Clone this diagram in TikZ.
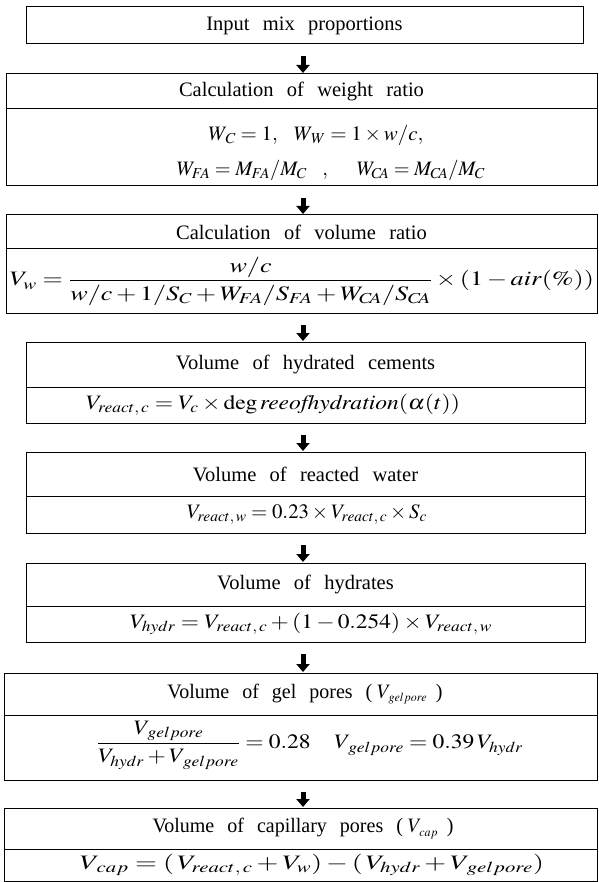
\documentclass[tikz,border=0pt]{standalone}
\usepackage{amsmath}
\usepackage{graphicx}
\usepackage{mathptmx}
\usepackage{fontspec}
\setmainfont{Liberation Serif}
\usetikzlibrary{arrows.meta,calc}
\newcommand\txtfont{\fontsize{20.5}{24}\selectfont\spaceskip=0.65em plus 0.1em\relax}
\newcommand\wfit[2]{\resizebox{#1}{\height}{#2}}
\tikzset{
  boxnode/.style={draw, line width=1pt, inner sep=0pt, outer sep=0pt, font=\txtfont},
  txt/.style={inner sep=0pt, outer sep=0pt, font=\txtfont},
  fatarrow/.style={line width=5pt, -{Triangle[width=13pt,length=8pt]}},
}
\begin{document}
\begin{tikzpicture}[x=1pt,y=-1pt]
\useasboundingbox (0,0) rectangle (598,882);
\coordinate (ax) at (303,0);
% box 1
\node[boxnode, minimum width=557pt, minimum height=37pt] (b1) at (304.5,25.5) {Input mix proportions};
% box 2
\node[boxnode, minimum width=591pt, minimum height=35pt] (t2) at (301.5,91.5) {Calculation of weight ratio};
\node[boxnode, minimum width=591pt, minimum height=77pt] (f2) at (301.5,147.5) {};
\node[txt] (e2a) at (316,135) {\wfit{215pt}{$W_{\,C}=1,\ W_{\,W}=1\times w/c,$}};
\node[txt] (e2b) at (331,170) {\wfit{308pt}{$W_{F\!A}=M_{F\!A}/M_C\,\ ,\ \ W_{C\!A}=M_{C\!A}/M_C$}};
% box 3
\node[boxnode, minimum width=591pt, minimum height=34pt] (t3) at (301.5,232) {Calculation of volume ratio};
\node[boxnode, minimum width=591pt, minimum height=64pt] (f3) at (301.5,281) {};
\node[txt] (e3) at (302,281) {\wfit{584pt}{$V_w=\dfrac{w/c}{w/c+1/S_C+W_{F\!A}/S_{F\!A}+W_{C\!A}/S_{C\!A}}\times(1-\mathit{air}(\%))$}};
% box 4
\node[boxnode, minimum width=559pt, minimum height=45pt] (t4) at (305.5,364.5) {Volume of hydrated cements};
\node[boxnode, minimum width=559pt, minimum height=36pt] (f4) at (305.5,405) {};
\node[txt] (e4) at (273,405) {\wfit{374pt}{$V_{react,\,c}=V_c\times\deg\mathit{reeofhydration}(\alpha(t))$}};
% box 5
\node[boxnode, minimum width=559pt, minimum height=44pt] (t5) at (305.5,474) {Volume of reacted water};
\node[boxnode, minimum width=559pt, minimum height=37pt] (f5) at (305.5,514.5) {};
\node[txt] (e5) at (307,514.5) {\wfit{240pt}{$V_{react,\,w}=0.23\times V_{react,\,c}\times S_c$}};
% box 6
\node[boxnode, minimum width=559pt, minimum height=43pt] (t6) at (305.5,584.5) {Volume of hydrates};
\node[boxnode, minimum width=559pt, minimum height=36pt] (f6) at (305.5,624) {};
\node[txt] (e6) at (311,624) {\wfit{362pt}{$V_{hydr}=V_{react,\,c}+(1-0.254)\times V_{react,\,w}$}};
% box 7
\node[boxnode, minimum width=593pt, minimum height=42pt] (t7) at (300.5,694) {};
\node[txt] (h7) at (305,694) {\wfit{275pt}{Volume of gel pores (\hspace{5pt}$V_{\scriptscriptstyle\,gelpore}$\hspace{9pt})}};
\node[boxnode, minimum width=593pt, minimum height=65pt] (f7) at (300.5,747.5) {};
\node[txt] (e7) at (310,745) {\wfit{426pt}{$\dfrac{V_{\,gelpore}}{V_{hydr}+V_{\,gelpore}}=0.28\quad V_{\,gelpore}=0.39\,V_{hydr}$}};
% box 8
\node[boxnode, minimum width=593pt, minimum height=41pt] (t8) at (300.5,828.5) {};
\node[txt] (h8) at (303,828.5) {\wfit{301pt}{Volume of capillary pores (\hspace{5pt}$V_{\scriptscriptstyle\,cap}$\hspace{9pt})}};
\node[boxnode, minimum width=593pt, minimum height=32pt] (f8) at (300.5,865) {};
\node[txt] (e8) at (312,865) {\wfit{464pt}{$V_{\,cap}=(\,V_{react,\,c}+V_w)-(\,V_{hydr}+V_{\,gelpore})$}};
% arrows
\draw[fatarrow] ($(ax |- b1.south)+(0,12)$) -- ($(ax |- t2.north)+(0,-1)$);
\draw[fatarrow] ($(ax |- f2.south)+(0,12)$) -- ($(ax |- t3.north)+(0,-1)$);
\draw[fatarrow] ($(ax |- f3.south)+(0,12)$) -- ($(ax |- t4.north)+(0,-1)$);
\draw[fatarrow] ($(ax |- f4.south)+(0,12)$) -- ($(ax |- t5.north)+(0,-1)$);
\draw[fatarrow] ($(ax |- f5.south)+(0,12)$) -- ($(ax |- t6.north)+(0,-1)$);
\draw[fatarrow] ($(ax |- f6.south)+(0,12)$) -- ($(ax |- t7.north)+(0,-1)$);
\draw[fatarrow] ($(ax |- f7.south)+(0,12)$) -- ($(ax |- t8.north)+(0,-1)$);
\end{tikzpicture}
\end{document}
